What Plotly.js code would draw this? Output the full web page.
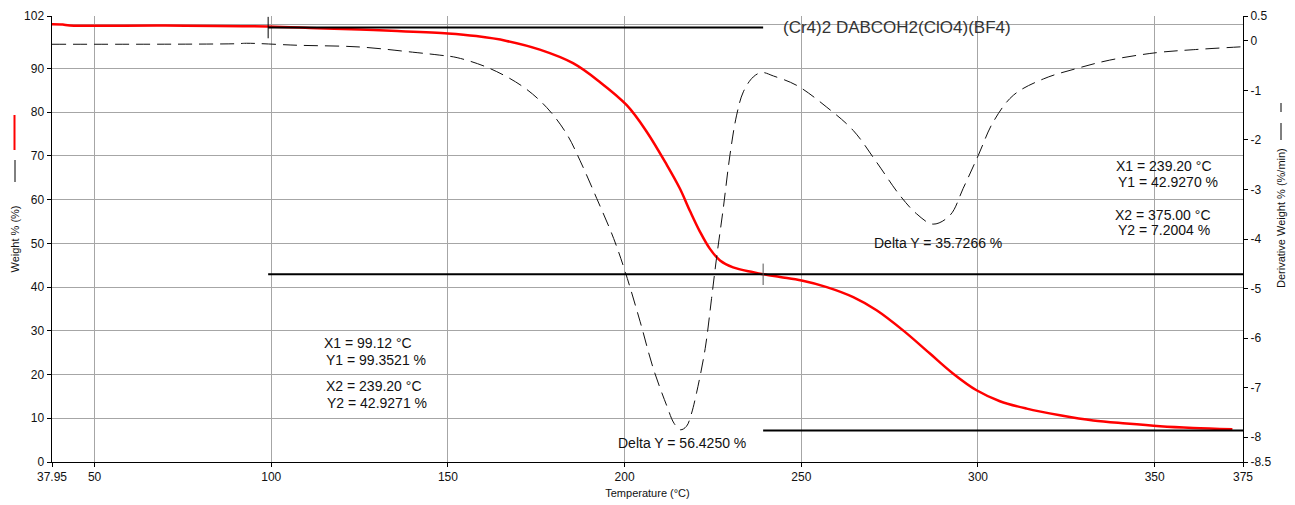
<!DOCTYPE html>
<html>
<head>
<meta charset="utf-8">
<script src="https://cdn.plot.ly/plotly-3.0.1.min.js"></script>
<style>html,body{margin:0;padding:0;background:#fff}#chart{width:1295px;height:505px}</style>
</head>
<body>
<div id="chart"></div>
<script>
// ---------------- data ----------------
const chartTitle = '(Cr4)2 DABCOH2(ClO4)(BF4)';
const xTitle = 'Temperature (°C)';
const yTitle = 'Weight % (%)';
const y2Title = 'Derivative Weight % (%/min)';

const xTickVals = [37.95, 50, 100, 150, 200, 250, 300, 350, 375];
const xTickText = ['37.95', '50', '100', '150', '200', '250', '300', '350', '375'];
const yTickVals = [0, 10, 20, 30, 40, 50, 60, 70, 80, 90, 102];
const yTickText = ['0', '10', '20', '30', '40', '50', '60', '70', '80', '90', '102'];
const y2TickVals = [0.5, 0, -1, -2, -3, -4, -5, -6, -7, -8, -8.5];
const y2TickText = ['0.5', '0', '-1', '-2', '-3', '-4', '-5', '-6', '-7', '-8', '-8.5'];

// Weight % curve (red)
const weightT = [37.95, 41, 43, 70, 99.12, 113, 125, 134, 150, 158, 166.6, 176, 185.4, 193, 200.6,
  206.2, 211.9, 215.6, 218.5, 221.3, 224.1, 227, 230.7, 236.4, 239.2, 244, 250.1, 257.2, 264.7,
  271.3, 278.8, 286.4, 293, 299.6, 306.2, 313.8, 323.2, 332.6, 342, 351.5, 360.9, 372];
const weightPct = [100.1, 100.05, 99.85, 99.8, 99.6, 99.2, 98.9, 98.6, 98.0, 97.4, 96.3, 94.3, 91.2, 86.9, 81.6,
  75.6, 68.0, 62.6, 57.4, 52.7, 48.8, 46.1, 44.5, 43.4, 42.93, 42.3, 41.5, 40.0, 37.7,
  34.7, 30.1, 24.8, 20.2, 16.4, 13.9, 12.2, 10.7, 9.5, 8.8, 8.2, 7.8, 7.5];

// Derivative weight curve (dashed)
const derivT = [37.95, 90, 93, 107.3, 125, 140, 147.7, 152.6, 161.9, 171.3, 178, 183.6, 187.4, 192.1,
  196.9, 200.2, 204.4, 208.1, 211.9, 214, 215.8, 217.5, 218.8, 220.4, 222.8, 224.6, 226, 227.9,
  229.8, 231.7, 233.6, 236.4, 238.8, 242.1, 248.7, 257.2, 264.7, 271.3, 277.9, 282.6, 287.3,
  292.1, 295.8, 300.1, 304.3, 310, 318.5, 327.9, 337.3, 350.5, 360.9, 375];
const derivVal = [-0.07, -0.06, -0.05, -0.09, -0.125, -0.23, -0.29, -0.34, -0.56, -0.93, -1.35, -1.88, -2.42, -3.18,
  -3.99, -4.67, -5.67, -6.61, -7.36, -7.72, -7.85, -7.78, -7.55, -7.09, -6.21, -5.20, -4.39, -3.39,
  -2.31, -1.50, -1.03, -0.73, -0.64, -0.71, -0.90, -1.34, -1.81, -2.45, -3.12, -3.49, -3.70,
  -3.52, -2.98, -2.31, -1.64, -1.10, -0.77, -0.56, -0.39, -0.24, -0.18, -0.12];

// Step analysis results
const stepX1 = [99.12, 239.20];
const stepY1 = [99.3521, 42.9270];
const stepX2 = [239.20, 375.00];
const stepY2 = [42.9271, 7.2004];
const stepDeltaY = [56.4250, 35.7266];

// ---------------- layout helpers ----------------
const W = 1295, H = 505, ML = 52, MR = 52, MT = 16, MB = 43;
const PW = W - ML - MR, PH = H - MT - MB;
const px = x => (x - ML) / PW;
const py = y => (H - MB - y) / PH;
const FONT = 'Liberation Sans, Arial, sans-serif';

const traces = [
  {
    x: weightT, y: weightPct, type: 'scatter', mode: 'lines', name: 'Weight %',
    line: {color: '#ff0000', width: 2.5, shape: 'spline', smoothing: 1},
    hoverinfo: 'skip', showlegend: false
  },
  {
    x: derivT, y: derivVal, type: 'scatter', mode: 'lines', name: 'Derivative Weight %',
    yaxis: 'y2',
    line: {color: '#111111', width: 1, dash: '14px,7px', shape: 'spline', smoothing: 1},
    hoverinfo: 'skip', showlegend: false
  }
];

const shapes = [];
for (let i = 0; i < stepX1.length; i++) {
  shapes.push({type: 'line', xref: 'x', yref: 'y', x0: stepX1[i], x1: stepX2[i], y0: stepY1[i], y1: stepY1[i],
    line: {color: '#000', width: 2}});
  shapes.push({type: 'line', xref: 'x', yref: 'y', x0: stepX1[i], x1: stepX2[i], y0: stepY2[i], y1: stepY2[i],
    line: {color: '#000', width: 2}});
  shapes.push({type: 'line', xref: 'x', yref: 'y', x0: stepX1[i], x1: stepX1[i], y0: stepY1[i] - 2.45, y1: Math.min(stepY1[i] + 2.45, 102),
    line: {color: i === 0 ? '#000' : '#555', width: 1}});
}
// legend samples next to axis titles
shapes.push({type: 'line', xref: 'paper', yref: 'paper', x0: px(14.5), x1: px(14.5), y0: py(115), y1: py(150), line: {color: '#ff0000', width: 2}});
shapes.push({type: 'line', xref: 'paper', yref: 'paper', x0: px(15), x1: px(15), y0: py(160), y1: py(182), line: {color: '#000', width: 1}});
shapes.push({type: 'line', xref: 'paper', yref: 'paper', x0: px(1281), x1: px(1281), y0: py(123), y1: py(140), line: {color: '#000', width: 1}});
shapes.push({type: 'line', xref: 'paper', yref: 'paper', x0: px(1281), x1: px(1281), y0: py(103), y1: py(112), line: {color: '#000', width: 1}});

const annFont = {family: FONT, size: 14, color: '#111'};
function ann(text, x, y) {
  return {text: text, xref: 'paper', yref: 'paper', x: px(x), y: py(y), xanchor: 'left', yanchor: 'middle',
    showarrow: false, font: annFont, align: 'left'};
}
const annotations = [
  ann('X1 = ' + stepX1[0].toFixed(2) + ' °C', 322, 343),
  ann('Y1 = ' + stepY1[0].toFixed(4) + ' %', 323.5, 360),
  ann('X2 = ' + stepX2[0].toFixed(2) + ' °C', 323.5, 386),
  ann('Y2 = ' + stepY2[0].toFixed(4) + ' %', 324.5, 403),
  ann('Delta Y = ' + stepDeltaY[0].toFixed(4) + ' %', 616, 443),
  ann('X1 = ' + stepX1[1].toFixed(2) + ' °C', 1114, 166),
  ann('Y1 = ' + stepY1[1].toFixed(4) + ' %', 1116, 182),
  ann('X2 = ' + stepX2[1].toFixed(2) + ' °C', 1113, 215),
  ann('Y2 = ' + stepY2[1].toFixed(4) + ' %', 1116, 230),
  ann('Delta Y = ' + stepDeltaY[1].toFixed(4) + ' %', 872, 243),
  {text: y2Title, xref: 'paper', yref: 'paper', x: px(1281), y: py(218), xanchor: 'center', yanchor: 'middle',
    textangle: -90, showarrow: false, font: {family: FONT, size: 11, color: '#111'}}
];

const axisCommon = {
  showline: true, linecolor: '#000', linewidth: 1, ticks: 'outside', ticklen: 4, tickwidth: 1, tickcolor: '#000',
  zeroline: false, tickfont: {family: FONT, size: 12, color: '#111'}, fixedrange: true
};

const layout = {
  width: W, height: H,
  margin: {l: ML, r: MR, t: MT, b: MB, pad: 0},
  paper_bgcolor: '#fff', plot_bgcolor: '#fff',
  font: {family: FONT, color: '#111'},
  title: {text: chartTitle, xref: 'paper', x: px(783), xanchor: 'left', yref: 'container', y: 1 - 27 / H, yanchor: 'middle',
    font: {family: FONT, size: 17, color: '#333'}},
  showlegend: false,
  xaxis: Object.assign({}, axisCommon, {
    range: [37.95, 375], tickmode: 'array', tickvals: xTickVals, ticktext: xTickText,
    showgrid: true, gridcolor: '#a6a6a6', gridwidth: 1,
    title: {text: xTitle, font: {family: FONT, size: 11, color: '#111'}, standoff: 5}
  }),
  yaxis: Object.assign({}, axisCommon, {
    range: [0, 102], tickmode: 'array', tickvals: yTickVals, ticktext: yTickText,
    showgrid: true, gridcolor: '#a6a6a6', gridwidth: 1, linewidth: 1.5,
    minor: {tickmode: 'array', tickvals: [100], showgrid: true, gridcolor: '#a6a6a6', ticks: ''},
    title: {text: yTitle, font: {family: FONT, size: 11, color: '#111'}, standoff: 2}
  }),
  yaxis2: Object.assign({}, axisCommon, {
    overlaying: 'y', side: 'right', anchor: 'x',
    range: [-8.5, 0.5], tickmode: 'array', tickvals: y2TickVals, ticktext: y2TickText,
    showgrid: false
  }),
  shapes: shapes,
  annotations: annotations
};

Plotly.newPlot('chart', traces, layout, {staticPlot: true, displayModeBar: false});
</script>
</body>
</html>
